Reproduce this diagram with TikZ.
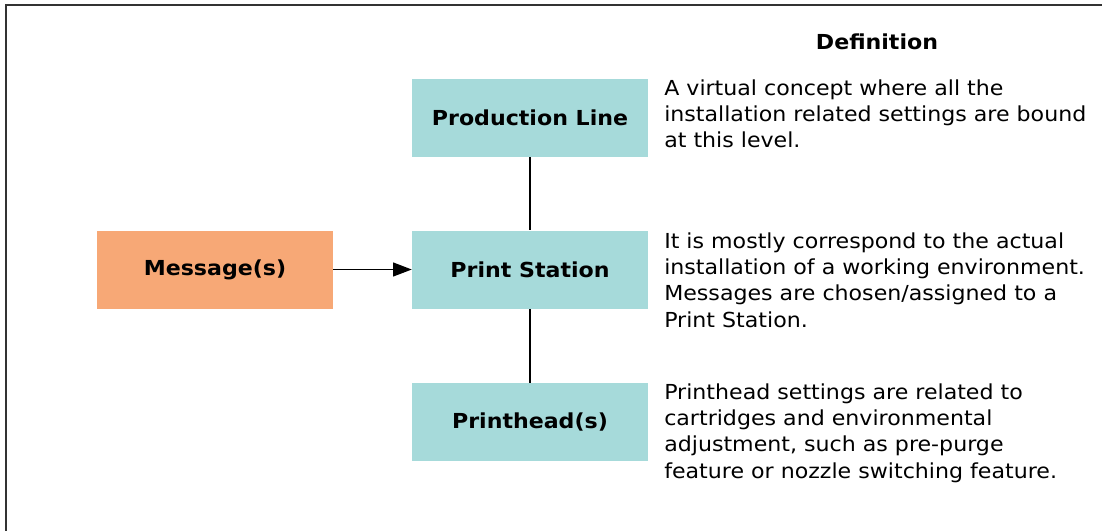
\documentclass[tikz,border=0pt]{standalone}
\usepackage{fontspec}
\setmainfont{DejaVu Sans}[FakeStretch=1.07]
\usetikzlibrary{arrows.meta}
\definecolor{tealbox}{RGB}{166,218,218}
\definecolor{orangebox}{RGB}{247,168,118}
\begin{document}
\begin{tikzpicture}[x=0.75pt,y=-0.75pt,
  box/.style={draw=none,minimum width=177pt,minimum height=58.5pt,inner sep=0pt,font=\fontsize{15.5}{18}\selectfont\bfseries},
  deftext/.style={anchor=base west,align=left,inner sep=0pt,font=\fontsize{15.5}{19.7}\selectfont},
  conn/.style={line width=0.9pt,black}]
\useasboundingbox (0,0) rectangle (1102,531);
\draw[line width=1.4pt,black!80] (6,531) -- (6,5) -- (1102,5);
\node[box,fill=tealbox] (pl) at (530,118) {Production Line};
\node[box,fill=tealbox] (ps) at (530,269.5) {Print Station};
\node[box,fill=tealbox] (ph) at (530,422) {Printhead(s)};
\node[box,fill=orangebox] (msg) at (215,269.5) {Message(s)};
\draw[conn] (pl) -- (ps);
\draw[conn] (ps) -- (ph);
\draw[conn,-{Triangle[length=14pt,width=10.5pt]}] (msg) -- (ps);
\node[anchor=base,inner sep=0pt,font=\fontsize{15.5}{18}\selectfont\bfseries] (def) at (877,50) {Definition};
\node[deftext] (d1) at (664,148) {A virtual concept where all the\\installation related settings are bound\\at this level.};
\node[deftext] (d2) at (664,327) {It is mostly correspond to the actual\\installation of a working environment.\\Messages are chosen/assigned to a\\Print Station.};
\node[deftext] (d3) at (664,478) {Printhead settings are related to\\cartridges and environmental\\adjustment, such as pre-purge\\feature or nozzle switching feature.};
\end{tikzpicture}
\end{document}
